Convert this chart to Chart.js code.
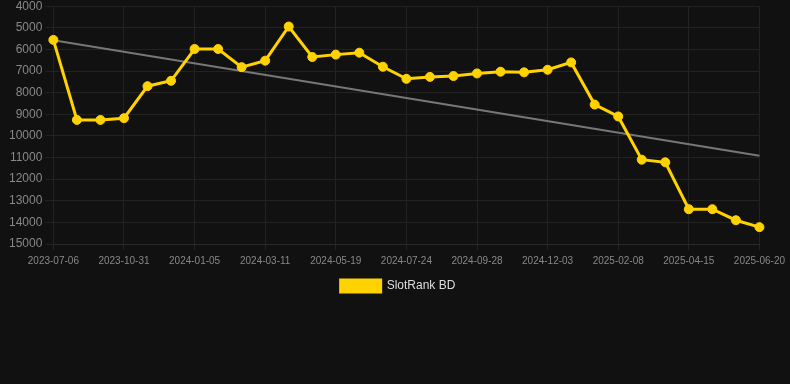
<!DOCTYPE html>
<html>
<head>
<meta charset="utf-8">
<script src="https://cdn.jsdelivr.net/npm/chart.js@4"></script>
<style>
  html, body { margin: 0; padding: 0; background: #111111; overflow: hidden; }
  #wrap { width: 790px; height: 306px; margin-top: -4px; position: relative; }
</style>
</head>
<body>
<div id="wrap"><canvas id="rankChart"></canvas></div>
<script>
// Data
const dates = [
  '2023-07-06', '2023-08-14', '2023-09-22', '2023-10-31', '2023-11-22', '2023-12-14',
  '2024-01-05', '2024-01-27', '2024-02-18', '2024-03-11', '2024-04-03', '2024-04-26',
  '2024-05-19', '2024-06-09', '2024-07-02', '2024-07-24', '2024-08-15', '2024-09-06',
  '2024-09-28', '2024-10-20', '2024-11-11', '2024-12-03', '2024-12-25', '2025-01-17',
  '2025-02-08', '2025-03-02', '2025-03-24', '2025-04-15', '2025-05-07', '2025-05-29',
  '2025-06-20'
];
const rankValues = [
  5560, 9260, 9260, 9180, 7700, 7450,
  5980, 5980, 6820, 6520, 4940, 6350,
  6240, 6150, 6800, 7360, 7270, 7230,
  7110, 7030, 7060, 6940, 6600, 8550,
  9100, 11100, 11220, 13390, 13390, 13900,
  14220
];
const trendStart = 5570;
const trendEnd = 10920;
const yTicks = [4000, 5000, 6000, 7000, 8000, 9000, 10000, 11000, 12000, 13000, 14000, 15000];

const trendValues = dates.map((d, i) => i === 0 ? trendStart : (i === dates.length - 1 ? trendEnd : null));
const fontFamily = 'Liberation Sans, Arial, sans-serif';

const ctx = document.getElementById('rankChart').getContext('2d');
new Chart(ctx, {
  type: 'line',
  data: {
    labels: dates,
    datasets: [{
      label: 'SlotRank BD',
      data: rankValues,
      borderColor: '#ffd200',
      backgroundColor: '#ffd200',
      borderWidth: 3,
      pointRadius: 4.5,
      pointBorderWidth: 1,
      pointHoverRadius: 6,
      tension: 0
    }, {
      label: 'trend',
      data: trendValues,
      spanGaps: true,
      borderColor: '#777777',
      borderWidth: 2,
      pointRadius: 0,
      tension: 0
    }]
  },
  options: {
    responsive: true,
    maintainAspectRatio: false,
    animation: false,
    layout: { padding: { left: 6, right: 0 } },
    plugins: {
      tooltip: { enabled: false },
      legend: {
        position: 'bottom',
        labels: {
          color: '#dddddd',
          font: { family: fontFamily, size: 12 },
          boxWidth: 40,
          boxHeight: 12,
          padding: 8,
          filter: item => item.text !== 'trend'
        }
      }
    },
    scales: {
      x: {
        grid: {
          color: c => (c.index % 3 === 0 ? '#222222' : 'rgba(0,0,0,0)'),
          tickLength: 6
        },
        border: { color: '#2a2a2a' },
        ticks: {
          color: '#888888',
          autoSkip: false,
          maxRotation: 0,
          padding: 5,
          font: { family: fontFamily, size: 10 },
          callback: function (val, i) { return i % 3 === 0 ? dates[i] : ''; }
        }
      },
      y: {
        reverse: true,
        min: yTicks[0],
        max: yTicks[yTicks.length - 1],
        grid: { color: '#222222' },
        border: { color: '#222222' },
        afterBuildTicks: axis => { axis.ticks = yTicks.map(v => ({ value: v })); },
        ticks: {
          color: '#888888',
          font: { family: fontFamily, size: 12 },
          callback: v => String(v)
        }
      }
    }
  }
});
</script>
</body>
</html>
